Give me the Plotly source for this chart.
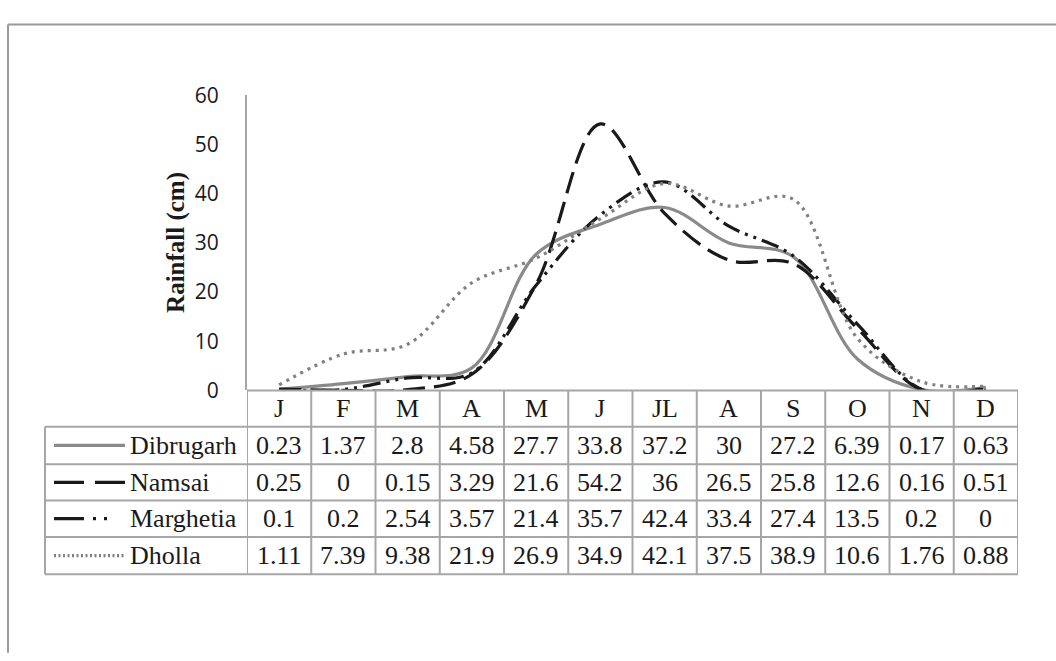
import plotly.graph_objects as go

# ---- data ----
months = ["J", "F", "M", "A", "M", "J", "JL", "A", "S", "O", "N", "D"]
series_names = ["Dibrugarh", "Namsai", "Marghetia", "Dholla"]
dibrugarh = [0.23, 1.37, 2.8, 4.58, 27.7, 33.8, 37.2, 30, 27.2, 6.39, 0.17, 0.63]
namsai = [0.25, 0, 0.15, 3.29, 21.6, 54.2, 36, 26.5, 25.8, 12.6, 0.16, 0.51]
marghetia = [0.1, 0.2, 2.54, 3.57, 21.4, 35.7, 42.4, 33.4, 27.4, 13.5, 0.2, 0]
dholla = [1.11, 7.39, 9.38, 21.9, 26.9, 34.9, 42.1, 37.5, 38.9, 10.6, 1.76, 0.88]
y_ticks = [0, 10, 20, 30, 40, 50, 60]
y_title = "Rainfall (cm)"

values = [dibrugarh, namsai, marghetia, dholla]

# ---- styling ----
W, H = 1056, 661
styles = [
    dict(color="#8a8a8a", width=3.2, dash="solid"),
    dict(color="#1a1a1a", width=3.2, dash="22px,9px"),
    dict(color="#1a1a1a", width=3.2, dash="18px,6px,3px,6px,3px,6px"),
    dict(color="#808080", width=3.2, dash="3px,5px"),
]
legend_dash = ["solid", "30px,11px", "30px,9px,3px,8px,3px,20px", "2px,2.5px"]
grid_col = "#a6a6a6"
serif = "Liberation Serif"
table_font = dict(family=serif, size=26, color="#1a1a1a")

def px(x):
    return x / W

def py(y):
    return 1 - y / H

plot_left, plot_right = 247, 1018
plot_top, plot_bottom = 84, 392
row_lines = [392, 430, 469, 507, 545, 584]
table_left = 45

xs = list(range(len(months)))

fig = go.Figure()
for name, vals, st in zip(series_names, values, styles):
    fig.add_trace(go.Scatter(
        x=xs, y=vals, name=name, mode="lines",
        line=dict(color=st["color"], width=st["width"], dash=st["dash"],
                  shape="spline", smoothing=1.0),
        showlegend=False, hoverinfo="skip",
    ))

shapes = []
# outer chart border
shapes.append(dict(type="line", xref="paper", yref="paper",
                   x0=px(8), x1=px(8), y0=py(10), y1=py(H + 5),
                   line=dict(color="#9a9a9a", width=2)))
shapes.append(dict(type="line", xref="paper", yref="paper",
                   x0=px(8), x1=px(W + 5), y0=py(10), y1=py(10),
                   line=dict(color="#9a9a9a", width=2)))
# table horizontal lines
for i, yl in enumerate(row_lines):
    x0 = plot_left if i == 0 else table_left
    shapes.append(dict(type="line", xref="paper", yref="paper",
                       x0=px(x0), x1=px(plot_right), y0=py(yl), y1=py(yl),
                       line=dict(color=grid_col, width=2)))
# table vertical lines at category boundaries
for k in range(len(months) + 1):
    shapes.append(dict(type="line", xref="x", yref="paper",
                       x0=k - 0.5, x1=k - 0.5, y0=py(row_lines[0]), y1=py(row_lines[-1]),
                       line=dict(color=grid_col, width=2)))
shapes.append(dict(type="line", xref="paper", yref="paper",
                   x0=px(table_left), x1=px(table_left), y0=py(row_lines[1]), y1=py(row_lines[-1]),
                   line=dict(color=grid_col, width=2)))

annotations = []
# header row: month labels
for k, m in enumerate(months):
    annotations.append(dict(xref="x", yref="paper", x=k, y=py((row_lines[0] + row_lines[1]) / 2),
                            text=m, showarrow=False, xanchor="center", yanchor="middle",
                            font=table_font))
# data rows
for r, (name, vals, st) in enumerate(zip(series_names, values, styles)):
    yc = (row_lines[r + 1] + row_lines[r + 2]) / 2
    for k, v in enumerate(vals):
        annotations.append(dict(xref="x", yref="paper", x=k, y=py(yc),
                                text=f"{v:g}", showarrow=False, xanchor="center", yanchor="middle",
                                font=table_font))
    annotations.append(dict(xref="paper", yref="paper", x=px(128), y=py(yc),
                            text=name, showarrow=False, xanchor="left", yanchor="middle",
                            font=table_font))
    shapes.append(dict(type="line", xref="paper", yref="paper",
                       x0=px(54), x1=px(125), y0=py(yc), y1=py(yc),
                       line=dict(color=st["color"], width=3.2, dash=legend_dash[r])))

# y-axis title
annotations.append(dict(xref="paper", yref="paper", x=px(176), y=py((plot_top + plot_bottom) / 2),
                        text=f"<b>{y_title}</b>", showarrow=False, textangle=-90,
                        xanchor="center", yanchor="middle",
                        font=dict(family=serif, size=25, color="#1a1a1a")))

fig.update_layout(
    width=W, height=H,
    margin=dict(l=0, r=0, t=0, b=0),
    paper_bgcolor="white", plot_bgcolor="white",
    xaxis=dict(domain=[px(plot_left), px(plot_right)], range=[-0.5, len(months) - 0.5],
               showgrid=False, zeroline=False, showticklabels=False, showline=False,
               ticks="", fixedrange=True),
    yaxis=dict(domain=[py(plot_bottom), py(plot_top)], range=[0, 60],
               tickvals=y_ticks, ticktext=[str(t) for t in y_ticks],
               showgrid=False, zeroline=False, showline=True, linecolor=grid_col, linewidth=2,
               ticks="", ticklabelstandoff=22,
               tickfont=dict(family="Open Sans", size=21, color="#1a1a1a"), fixedrange=True),
    shapes=shapes,
    annotations=annotations,
)

fig.write_html("out.html")
